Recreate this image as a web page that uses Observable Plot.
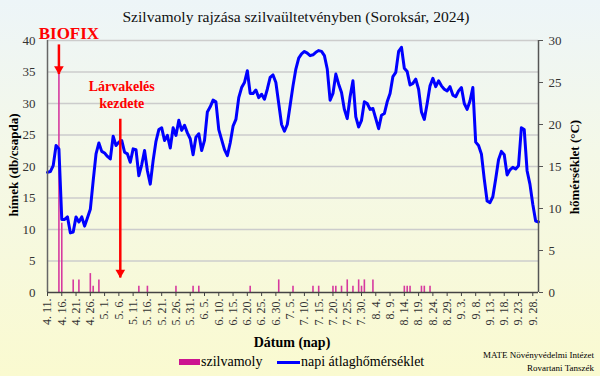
<!DOCTYPE html>
<html><head><meta charset="utf-8">
<script src="https://cdn.jsdelivr.net/npm/d3@7"></script>
<script src="https://cdn.jsdelivr.net/npm/@observablehq/plot@0.6"></script>
<style>
html,body{margin:0;padding:0;}
body{width:600px;height:376px;overflow:hidden;}
#wrap{position:relative;width:600px;height:376px;background:linear-gradient(to bottom,#edf5f8 0%,#f4f8e8 40%,#fafad0 100%);font-family:"Liberation Serif","Times New Roman",serif;color:#000;}
#chart{position:absolute;left:0;top:0;}
.t{position:absolute;white-space:nowrap;line-height:1;}
</style></head><body>
<div id="wrap">
<div id="chart"></div>
<div class="t" style="left:296px;top:17px;transform:translate(-50%,-50%);font-size:15.6px;color:#111;">Szilvamoly rajzása szilvaültetvényben (Soroksár, 2024)</div>
<div class="t" style="left:12.5px;top:165px;transform:translate(-50%,-50%) rotate(-90deg);font-size:13px;font-weight:bold;">hímek (db/csapda)</div>
<div class="t" style="left:573.5px;top:167px;transform:translate(-50%,-50%) rotate(-90deg);font-size:13px;font-weight:bold;">hőmérséklet (°C)</div>
<div class="t" style="left:292px;top:343px;transform:translate(-50%,-50%);font-size:14px;font-weight:bold;">Dátum (nap)</div>
<div style="position:absolute;left:179px;top:359px;width:21px;height:6px;background:#cc1490;"></div>
<div class="t" style="left:201px;top:362px;transform:translateY(-50%);font-size:14px;">szilvamoly</div>
<div style="position:absolute;left:277px;top:360.5px;width:23px;height:3px;background:#0000ff;"></div>
<div class="t" style="left:301px;top:362px;transform:translateY(-50%);font-size:14px;">napi átlaghőmérséklet</div>
<div class="t" style="right:6px;top:355px;transform:translateY(-50%);font-size:9px;text-align:right;">MATE Növényvédelmi Intézet</div>
<div class="t" style="right:6px;top:368px;transform:translateY(-50%);font-size:9px;text-align:right;">Rovartani Tanszék</div>
</div>
<script>
// Day index 0 = 2024-04-11
const xTickDays = [0,5,10,15,20,25,30,35,40,45,50,55,60,65,70,75,80,85,90,95,100,105,110,115,120,125,130,135,140,145,150,155,160,165,170];
const xTickLabels = ["4. 11.","4. 16.","4. 21.","4. 26.","5. 1.","5. 6.","5. 11.","5. 16.","5. 21.","5. 26.","5. 31.","6. 5.","6. 10.","6. 15.","6. 20.","6. 25.","6. 30.","7. 5.","7. 10.","7. 15.","7. 20.","7. 25.","7. 30.","8. 4.","8. 9.","8. 14.","8. 19.","8. 24.","8. 29.","9. 3.","9. 8.","9. 13.","9. 18.","9. 23.","9. 28."];
const leftTicks = [0,5,10,15,20,25,30,35,40];
const rightTicks = [0,5,10,15,20,25,30];

// szilvamoly catches (males per trap)
const mothDays = [4,5,9,11,15,16,18,32,35,45,51,53,71,81,86,93,95,100,101,103,105,107,109,110,111,114,125,126,127,131,132,134];
const mothCounts = [35,11,2,2,3,1,2,1,1,1,1,1,1,2,1,1,1,1,1,1,2,1,2,1,2,2,1,1,1,1,1,1];

// daily mean temperature (°C), one value per day from day 0
const temperature = [
14.3,14.4,15.1,17.5,17.1,8.7,8.7,9.0,7.1,7.2,
9.0,8.4,9.0,7.9,8.9,9.9,13.3,16.5,17.8,16.8,
16.6,16.2,15.9,18.6,17.5,17.9,18.1,16.7,16.5,15.5,
17.1,17.0,13.9,15.2,16.9,14.5,12.9,15.7,18.0,19.4,
19.6,18.1,18.7,17.2,19.6,18.7,20.5,19.3,19.9,19.0,
18.3,16.4,18.5,18.9,16.9,18.1,21.5,22.1,22.9,22.7,
19.4,18.2,17.0,16.3,17.8,19.8,20.6,23.2,24.4,25.0,
26.4,23.7,23.7,24.1,23.2,23.6,23.0,24.2,25.6,25.9,
25.0,22.5,20.0,19.2,20.0,22.3,24.6,26.6,27.9,28.4,
28.7,28.5,28.2,28.3,28.6,28.8,28.7,28.2,26.6,22.9,
23.7,26.0,24.8,23.8,21.8,20.7,23.3,25.2,20.9,19.7,
20.5,22.7,22.5,21.8,21.9,20.7,19.5,21.1,21.3,22.7,
23.7,25.7,26.2,28.7,29.2,26.7,26.3,24.7,24.9,25.4,
24.2,21.5,20.6,22.5,24.6,25.5,24.5,25.2,24.6,24.2,
24.0,24.5,23.5,23.3,24.0,24.4,22.5,21.8,22.8,24.4,
17.9,17.5,16.5,13.5,10.9,10.7,11.4,13.5,15.8,16.8,
16.4,14.0,14.6,14.9,14.7,15.1,19.6,19.4,14.5,12.9,
10.5,8.5,8.4
];

// annotations (data coordinates on the left axis)
const arrowX = [4, 25.5];
const arrowTop = [39.3, 27.5];
const arrowTip = [34.6, 2.3];
const noteText = ["BIOFIX", "Lárvakelés", "kezdete"];
const noteX = [7.5, 26, 26];
const noteY = [41.1, 32.7, 30.0];
const noteSize = [17, 14, 14];

const tempScale = 40 / 30;
const moths = mothDays.map((d, i) => ({day: d, count: mothCounts[i]}));
const temps = temperature.map((t, i) => ({day: i, t}));
const arrows = arrowX.map((x, i) => ({x, y1: arrowTop[i], y2: arrowTip[i]}));
const notes = noteText.map((text, i) => ({text, x: noteX[i], y: noteY[i], size: noteSize[i]}));

const serif = "Liberation Serif, Times New Roman, serif";

const chart = Plot.plot({
  width: 600, height: 376,
  marginTop: 40, marginBottom: 84, marginLeft: 47, marginRight: 62,
  x: {domain: [0, 172]},
  y: {domain: [0, 40]},
  style: {background: "transparent", fontFamily: serif, fontSize: "13px", color: "#333"},
  marks: [
    Plot.ruleY(leftTicks.filter(d => d > 0), {stroke: "#cccccc", strokeWidth: 1.5}),
    Plot.ruleX(moths, {x: "day", y1: 0, y2: "count", stroke: "#d6399f", strokeWidth: 1.6}),
    Plot.line(temps, {x: "day", y: d => d.t * tempScale, stroke: "#0000ff", strokeWidth: 3, strokeLinejoin: "round"}),
    Plot.ruleX([0], {stroke: "#666", strokeWidth: 1.5}),
    Plot.ruleX([172], {stroke: "#555", strokeWidth: 1.5}),
    Plot.ruleY([0], {stroke: "#444", strokeWidth: 1.5}),
    Plot.axisX({ticks: xTickDays, tickFormat: d => xTickLabels[xTickDays.indexOf(d)], tickRotate: -90, tickSize: 4, tickPadding: 2, fontSize: 12, label: null, stroke: "#444"}),
    Plot.axisY({anchor: "left", ticks: leftTicks, tickSize: 0, tickPadding: 12, fontSize: 13, label: null}),
    Plot.axisY({anchor: "right", ticks: rightTicks.map(t => t * tempScale), tickFormat: d => String(Math.round(d / tempScale)), tickSize: 4, tickPadding: 6, fontSize: 13, label: null, stroke: "#555"}),
    Plot.ruleX(arrows, {x: "x", y1: "y1", y2: "y2", stroke: "#ff0000", strokeWidth: 2.5}),
    Plot.dot(arrows, {x: "x", y: "y2", symbol: "triangle", rotate: 180, r: 3.6, fill: "#ff0000", stroke: "none", dy: -5.5}),
    Plot.text(notes, {x: "x", y: "y", text: "text", fill: "#ff0000", fontWeight: "bold", fontSize: d => d.size, fontFamily: serif})
  ]
});
document.getElementById("chart").appendChild(chart);
</script>
</body></html>
